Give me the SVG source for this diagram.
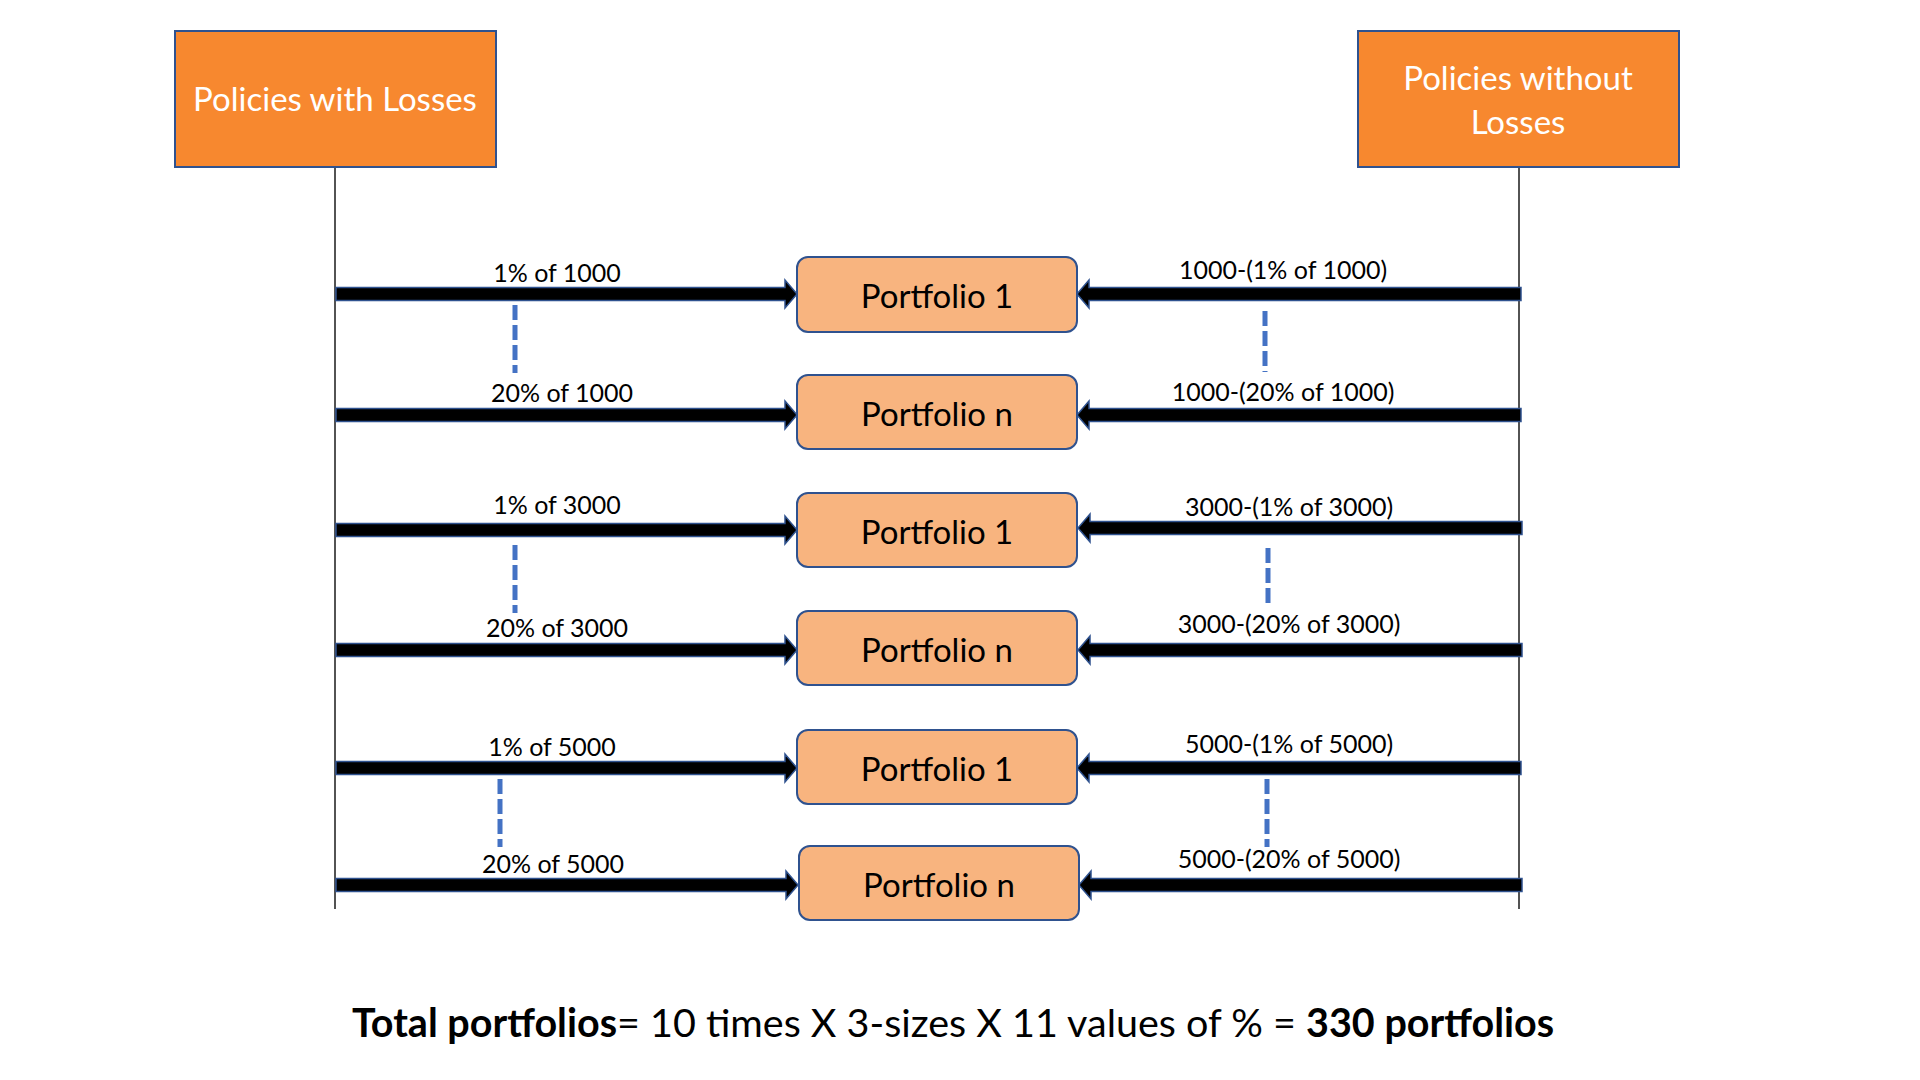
<svg xmlns="http://www.w3.org/2000/svg" width="1920" height="1080" viewBox="0 0 1920 1080">
<style>
.hdr{fill:#F7882F;stroke:#2F528F;stroke-width:2}
.hdrt{font-family:Lato,"Liberation Sans",sans-serif;font-size:33px;fill:#FFFFFF;text-anchor:middle}
.pf{fill:#F8B47F;stroke:#2F528F;stroke-width:2}
.pft{font-family:Lato,"Liberation Sans",sans-serif;font-size:33px;fill:#000;text-anchor:middle}
.lbl{font-family:Lato,"Liberation Sans",sans-serif;font-size:25px;fill:#000;text-anchor:middle}
.arr{fill:#000;stroke:#2F528F;stroke-width:1.5;stroke-linejoin:miter}
.life{stroke:#1a1a1a;stroke-width:1.5;fill:none}
.dash{stroke:#4472C4;stroke-width:5;stroke-dasharray:15 5;fill:none}
.tot{font-family:Lato,"Liberation Sans",sans-serif;font-size:39.5px;fill:#000;text-anchor:middle}
</style>
<rect width="1920" height="1080" fill="#FFFFFF"/>

<g id="connectors">
  <line class="life" x1="335" y1="167" x2="335" y2="909"/>
  <line class="life" x1="1519" y1="167" x2="1519" y2="909"/>
  <polygon class="arr" points="336,287.5 785,287.5 785,280 797,294 785,308 785,300.5 336,300.5"/>
  <polygon class="arr" points="336,408.5 785,408.5 785,401 797,415 785,429 785,421.5 336,421.5"/>
  <polygon class="arr" points="336,523.5 785,523.5 785,516 797,530 785,544 785,536.5 336,536.5"/>
  <polygon class="arr" points="336,643.5 785,643.5 785,636 797,650 785,664 785,656.5 336,656.5"/>
  <polygon class="arr" points="336,761.5 785,761.5 785,754 797,768 785,782 785,774.5 336,774.5"/>
  <polygon class="arr" points="336,878.5 786,878.5 786,871 798,885 786,899 786,891.5 336,891.5"/>
  <polygon class="arr" points="1521,287.5 1089,287.5 1089,280 1077,294 1089,308 1089,300.5 1521,300.5"/>
  <polygon class="arr" points="1521,408.5 1089,408.5 1089,401 1077,415 1089,429 1089,421.5 1521,421.5"/>
  <polygon class="arr" points="1522,521.5 1090,521.5 1090,514 1078,528 1090,542 1090,534.5 1522,534.5"/>
  <polygon class="arr" points="1522,643.5 1090,643.5 1090,636 1078,650 1090,664 1090,656.5 1522,656.5"/>
  <polygon class="arr" points="1521,761.5 1089,761.5 1089,754 1077,768 1089,782 1089,774.5 1521,774.5"/>
  <polygon class="arr" points="1522,878.5 1091,878.5 1091,871 1079,885 1091,899 1091,891.5 1522,891.5"/>
  <line class="dash" x1="515" y1="305" x2="515" y2="373"/>
  <line class="dash" x1="515" y1="545" x2="515" y2="613"/>
  <line class="dash" x1="500" y1="779" x2="500" y2="847"/>
  <line class="dash" x1="1265" y1="311" x2="1265" y2="372"/>
  <line class="dash" x1="1268" y1="548" x2="1268" y2="608"/>
  <line class="dash" x1="1267" y1="779" x2="1267" y2="847"/>
  <text class="lbl" x="557" y="282">1% of 1000</text>
  <text class="lbl" x="562" y="402">20% of 1000</text>
  <text class="lbl" x="557" y="514">1% of 3000</text>
  <text class="lbl" x="557" y="637">20% of 3000</text>
  <text class="lbl" x="552" y="756">1% of 5000</text>
  <text class="lbl" x="553" y="873">20% of 5000</text>
  <text class="lbl" x="1283" y="279">1000-(1% of 1000)</text>
  <text class="lbl" x="1283" y="401">1000-(20% of 1000)</text>
  <text class="lbl" x="1289" y="516">3000-(1% of 3000)</text>
  <text class="lbl" x="1289" y="633">3000-(20% of 3000)</text>
  <text class="lbl" x="1289" y="753">5000-(1% of 5000)</text>
  <text class="lbl" x="1289" y="868">5000-(20% of 5000)</text>
</g>

<g id="policies-with-losses">
  <rect class="hdr" x="175" y="31" width="321" height="136"/>
  <text class="hdrt" x="335" y="111">Policies with Losses</text>
</g>
<g id="policies-without-losses">
  <rect class="hdr" x="1358" y="31" width="321" height="136"/>
  <text class="hdrt" x="1518" y="90">Policies without</text>
  <text class="hdrt" x="1518" y="134">Losses</text>
</g>

<g id="portfolio-1-1000">
  <rect class="pf" x="797" y="257" width="280" height="75" rx="11"/>
  <text class="pft" x="937" y="308">Portfolio 1</text>
</g>
<g id="portfolio-n-1000">
  <rect class="pf" x="797" y="375" width="280" height="74" rx="11"/>
  <text class="pft" x="937" y="426">Portfolio n</text>
</g>
<g id="portfolio-1-3000">
  <rect class="pf" x="797" y="493" width="280" height="74" rx="11"/>
  <text class="pft" x="937" y="544">Portfolio 1</text>
</g>
<g id="portfolio-n-3000">
  <rect class="pf" x="797" y="611" width="280" height="74" rx="11"/>
  <text class="pft" x="937" y="662">Portfolio n</text>
</g>
<g id="portfolio-1-5000">
  <rect class="pf" x="797" y="730" width="280" height="74" rx="11"/>
  <text class="pft" x="937" y="781">Portfolio 1</text>
</g>
<g id="portfolio-n-5000">
  <rect class="pf" x="799" y="846" width="280" height="74" rx="11"/>
  <text class="pft" x="939" y="897">Portfolio n</text>
</g>

<g id="total">
  <text class="tot" x="953" y="1037"><tspan font-weight="bold">Total portfolios</tspan>= 10 times X 3-sizes X 11 values of % = <tspan font-weight="bold">330 portfolios</tspan></text>
</g>
</svg>
